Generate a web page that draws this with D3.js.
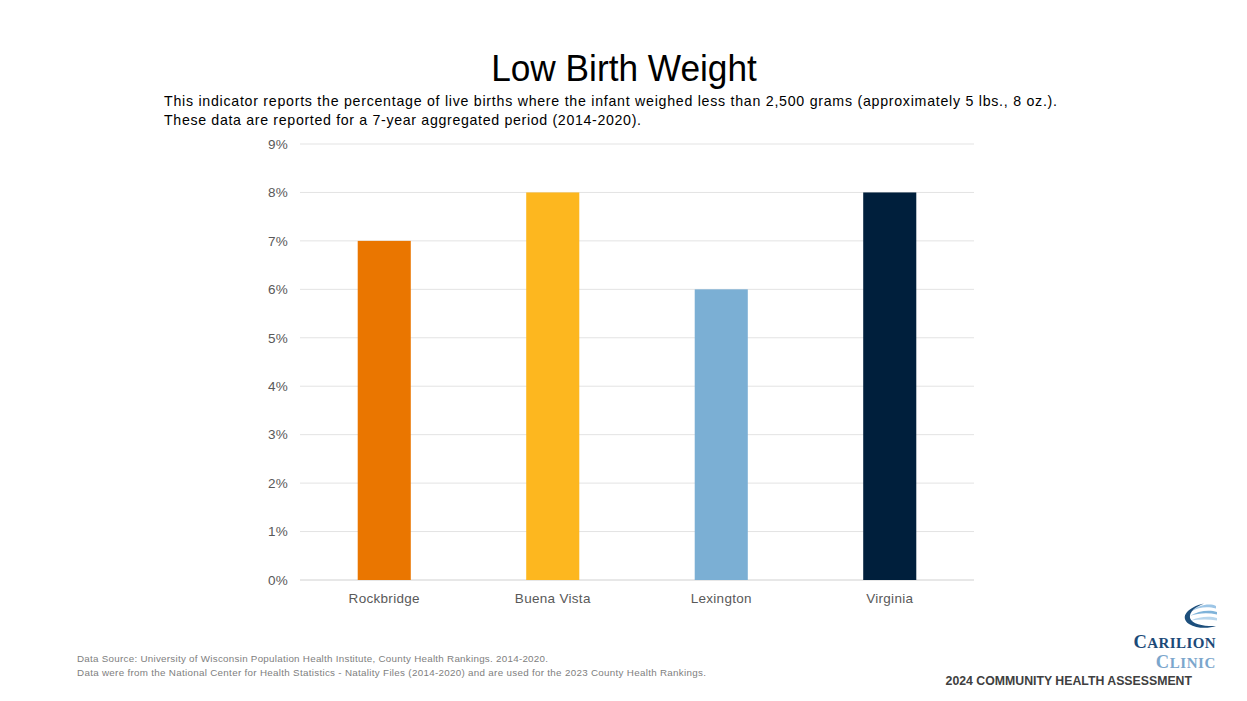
<!DOCTYPE html>
<html><head><meta charset="utf-8">
<script src="https://cdn.jsdelivr.net/npm/d3@7"></script>
<style>body{margin:0;background:#fff;} svg{display:block;}</style>
</head><body>
<svg id="c" width="1247" height="701"></svg>
<script>
const categories = ["Rockbridge", "Buena Vista", "Lexington", "Virginia"];
const values = [7, 8, 6, 8];
const colors = ["#EA7600", "#FDB71F", "#7BAFD4", "#001F3C"];
const yTicks = [0, 1, 2, 3, 4, 5, 6, 7, 8, 9];
const title = "Low Birth Weight";
const subtitle = ["This indicator reports the percentage of live births where the infant weighed less than 2,500 grams (approximately 5 lbs., 8 oz.).",
                  "These data are reported for a 7-year aggregated period (2014-2020)."];
const footnotes = ["Data Source: University of Wisconsin Population Health Institute, County Health Rankings. 2014-2020.",
                   "Data were from the National Center for Health Statistics - Natality Files (2014-2020) and are used for the 2023 County Health Rankings."];

(function(){
const svg = d3.select("#c");
const font = "'Liberation Sans', Arial, sans-serif";
const pL = 300, pR = 974, pT = 144, pB = 580;

const x = d3.scaleBand().domain(categories).range([pL, pR]).paddingInner(0.685).paddingOuter(0.3425);
const y = d3.scaleLinear().domain([0, 9]).range([pB, pT]);

svg.append("g").selectAll("line").data(yTicks).join("line")
  .attr("x1", pL).attr("x2", pR)
  .attr("y1", d => y(d)).attr("y2", d => y(d))
  .attr("stroke", d => d === 0 ? "#d0d0d0" : "#e3e3e3").attr("stroke-width", 1);

const ya = svg.append("g").attr("transform", `translate(${pL},0)`)
  .call(d3.axisLeft(y).tickValues(yTicks).tickFormat(d => d + "%").tickSize(0).tickPadding(12));
ya.select(".domain").remove();
ya.selectAll("text").attr("font-family", font).attr("font-size", 13.5).attr("letter-spacing", 0.3).attr("fill", "#595959");

svg.append("g").selectAll("rect").data(categories).join("rect")
  .attr("x", d => x(d)).attr("width", x.bandwidth())
  .attr("y", (d, i) => y(values[i])).attr("height", (d, i) => y(0) - y(values[i]))
  .attr("fill", (d, i) => colors[i]);

const xa = svg.append("g").attr("transform", `translate(0,${pB})`)
  .call(d3.axisBottom(x).tickSize(0).tickPadding(13));
xa.select(".domain").remove();
xa.selectAll("text").attr("font-family", font).attr("font-size", 13.5).attr("letter-spacing", 0.3).attr("fill", "#595959");

svg.append("text").attr("transform", "translate(624,81) scale(0.94,1)").attr("text-anchor", "middle")
  .attr("font-family", font)
  .attr("font-size", 37.5).attr("fill", "#000").text(title);

const subW = [893, 477];
svg.append("g").selectAll("text").data(subtitle).join("text")
  .attr("x", 164).attr("y", (d, i) => 106 + i * 19)
  .attr("textLength", (d, i) => subW[i]).attr("lengthAdjust", "spacing")
  .attr("font-family", font).attr("font-size", 14.2).attr("fill", "#000").text(d => d);

const footW = [471, 629];
svg.append("g").selectAll("text").data(footnotes).join("text")
  .attr("x", 77).attr("y", (d, i) => 662 + i * 14)
  .attr("textLength", (d, i) => footW[i]).attr("lengthAdjust", "spacing")
  .attr("font-family", font).attr("font-size", 9.8).attr("fill", "#808080").text(d => d);

// logo
const lg = svg.append("g");
lg.append("path").attr("d", "M1192,611 C1198,605 1210,603 1216,606 L1216,608.5 C1208,606 1198,607 1192,611 Z").attr("fill", "#9cc5e6");
lg.append("path").attr("d", "M1190,616 C1198,610.5 1210,609.5 1217,612 L1217,614.5 C1208,612.5 1198,613 1190,616 Z").attr("fill", "#7fb3d9");
lg.append("path").attr("d", "M1191,620.5 C1199,616.5 1210,616 1217,618 L1217,620.5 C1208,619 1199,619.5 1191,620.5 Z").attr("fill", "#b8d6ec");
lg.append("path").attr("d", "M1204,603.5 C1188,607 1179,617 1189,624 C1197,629 1209,628.5 1216,626 C1205,626.5 1192,624.5 1190,618 C1189,612 1195,607 1204,603.5 Z").attr("fill", "#1d4f7c");
const serif = "'Liberation Serif', 'Times New Roman', serif";
const t1 = lg.append("text").attr("x", 1216).attr("y", 648).attr("text-anchor", "end")
  .attr("font-family", serif).attr("font-weight", "bold").attr("fill", "#1c4a78").attr("letter-spacing", 0.4);
t1.append("tspan").attr("font-size", 18.5).text("C");
t1.append("tspan").attr("font-size", 15).text("ARILION");
const t2 = lg.append("text").attr("x", 1216).attr("y", 668).attr("text-anchor", "end")
  .attr("font-family", serif).attr("font-weight", "bold").attr("fill", "#7ba6cc").attr("letter-spacing", 0.6);
t2.append("tspan").attr("font-size", 18.5).text("C");
t2.append("tspan").attr("font-size", 15).text("LINIC");
svg.append("text").attr("x", 1192).attr("y", 685).attr("text-anchor", "end")
  .attr("font-family", font).attr("font-weight", "bold").attr("font-size", 12.3).attr("fill", "#404040")
  .text("2024 COMMUNITY HEALTH ASSESSMENT");
})();
</script>
</body></html>
